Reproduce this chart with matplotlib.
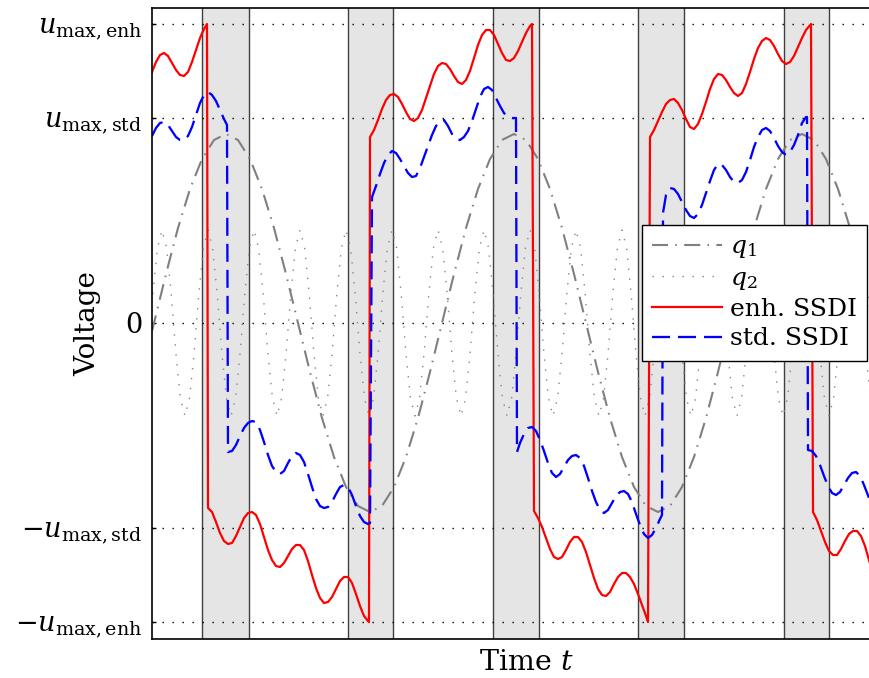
import matplotlib

matplotlib.use("Agg")
import matplotlib.pyplot as plt

plt.rcParams["font.family"] = "DejaVu Serif"
plt.rcParams["mathtext.fontset"] = "dejavuserif"

# time in ms, voltage in V; q1/q2 are drawn on the same (scaled) axis
U_MAX_ENH = 29.9
U_MAX_STD = 20.5

# switching windows (grey bands) around the extrema of q1
BAND_START = [5.0, 19.6, 34.1, 48.6, 63.2]
BAND_END = [9.7, 24.1, 38.7, 53.2, 67.7]

# mode 1 displacement q1
Q1_T = [0.0, 0.2, 1.4, 2.6, 3.8, 5.0, 6.2, 7.4, 8.6, 9.8, 11.0, 12.2, 13.4, 14.6, 15.8, 17.0, 18.2, 19.4, 20.6,
        21.8, 23.0, 24.2, 25.4, 26.6, 27.8, 29.0, 30.2, 31.4, 32.6, 33.8, 35.0, 36.2, 37.4, 38.6, 39.8, 41.0, 42.2,
        43.4, 44.6, 45.8, 47.0, 48.2, 49.4, 50.6, 51.8, 53.0, 54.2, 55.4, 56.6, 57.8, 59.0, 60.2, 61.4, 62.6, 63.8,
        65.0, 66.2, 67.4, 68.6, 69.8, 71.0, 72.2]
Q1_V = [-0.8, 0.0, 4.9, 9.5, 13.4, 16.4, 18.3, 18.9, 18.3, 16.4, 13.4, 9.5, 4.9, 0.0, -4.9, -9.5, -13.4, -16.4, -18.3,
        -18.9, -18.3, -16.4, -13.4, -9.5, -4.9, 0.0, 4.9, 9.5, 13.4, 16.4, 18.3, 18.9, 18.3, 16.4, 13.4, 9.5, 4.9,
        0.0, -4.9, -9.5, -13.4, -16.4, -18.3, -18.9, -18.3, -16.4, -13.4, -9.5, -4.9, 0.0, 4.9, 9.5, 13.4, 16.4, 18.3,
        18.9, 18.3, 16.4, 13.4, 9.5, 4.9, 0.0]

# mode 2 displacement q2
Q2_T = [0.08, 0.54, 1.00, 1.46, 1.92, 2.38, 2.84, 3.30, 3.76, 4.22,
        4.68, 5.14, 5.60, 6.06, 6.52, 6.98, 7.44, 7.90, 8.36, 8.82,
        9.28, 9.74, 10.20, 10.66, 11.12, 11.58, 12.04, 12.50, 12.96, 13.42,
        13.88, 14.34, 14.80, 15.26, 15.72, 16.18, 16.64, 17.10, 17.56, 18.02,
        18.48, 18.94, 19.40, 19.86, 20.32, 20.78, 21.24, 21.70, 22.16, 22.62,
        23.08, 23.54, 24.00, 24.46, 24.92, 25.38, 25.84, 26.30, 26.76, 27.22,
        27.68, 28.14, 28.60, 29.06, 29.52, 29.98, 30.44, 30.90, 31.36, 31.82,
        32.28, 32.74, 33.20, 33.66, 34.12, 34.58, 35.04, 35.50, 35.96, 36.42,
        36.88, 37.34, 37.80, 38.26, 38.72, 39.18, 39.64, 40.10, 40.56, 41.02,
        41.48, 41.94, 42.40, 42.86, 43.32, 43.78, 44.24, 44.70, 45.16, 45.62,
        46.08, 46.54, 47.00, 47.46, 47.92, 48.38, 48.84, 49.30, 49.76, 50.22,
        50.68, 51.14, 51.60, 52.06, 52.52, 52.98, 53.44, 53.90, 54.36, 54.82,
        55.28, 55.74, 56.20, 56.66, 57.12, 57.58, 58.04, 58.50, 58.96, 59.42,
        59.88, 60.34, 60.80, 61.26, 61.72, 62.18, 62.64, 63.10, 63.56, 64.02,
        64.48, 64.94, 65.40, 65.86, 66.32, 66.78, 67.24, 67.70, 68.16, 68.62,
        69.08, 69.54, 70.00, 70.46, 70.92, 71.38, 71.84, 72.30, 72.76, 73.22]
Q2_V = [2.9, 7.5, 9.3, 7.5, 2.9, -2.9, -7.5, -9.3, -7.5, -2.9,
        2.9, 7.5, 9.3, 7.5, 2.9, -2.9, -7.5, -9.3, -7.5, -2.9,
        2.9, 7.5, 9.3, 7.5, 2.9, -2.9, -7.5, -9.3, -7.5, -2.9,
        2.9, 7.5, 9.3, 7.5, 2.9, -2.9, -7.5, -9.3, -7.5, -2.9,
        2.9, 7.5, 9.3, 7.5, 2.9, -2.9, -7.5, -9.3, -7.5, -2.9,
        2.9, 7.5, 9.3, 7.5, 2.9, -2.9, -7.5, -9.3, -7.5, -2.9,
        2.9, 7.5, 9.3, 7.5, 2.9, -2.9, -7.5, -9.3, -7.5, -2.9,
        2.9, 7.5, 9.3, 7.5, 2.9, -2.9, -7.5, -9.3, -7.5, -2.9,
        2.9, 7.5, 9.3, 7.5, 2.9, -2.9, -7.5, -9.3, -7.5, -2.9,
        2.9, 7.5, 9.3, 7.5, 2.9, -2.9, -7.5, -9.3, -7.5, -2.9,
        2.9, 7.5, 9.3, 7.5, 2.9, -2.9, -7.5, -9.3, -7.5, -2.9,
        2.9, 7.5, 9.3, 7.5, 2.9, -2.9, -7.5, -9.3, -7.5, -2.9,
        2.9, 7.5, 9.3, 7.5, 2.9, -2.9, -7.5, -9.3, -7.5, -2.9,
        2.9, 7.5, 9.3, 7.5, 2.9, -2.9, -7.5, -9.3, -7.5, -2.9,
        2.9, 7.5, 9.3, 7.5, 2.9, -2.9, -7.5, -9.3, -7.5, -2.9,
        2.9, 7.5, 9.3, 7.5, 2.9, -2.9, -7.5, -9.3, -7.5, -2.9]

# enhanced SSDI voltage (one row per interval between switches)
ENH_T = [0.0, 0.4, 0.8, 1.2, 1.6, 2.0, 2.4, 2.8, 3.2, 3.6, 4.0, 4.4, 4.8, 5.2, 5.5,
         5.6, 6.0, 6.4, 6.8, 7.2, 7.6, 8.0, 8.4, 8.8, 9.2, 9.6, 10.0, 10.4, 10.8, 11.2, 11.6, 12.0, 12.4, 12.8, 13.2,
         13.6, 14.0, 14.4, 14.8, 15.2, 15.6, 16.0, 16.4, 16.8, 17.2, 17.6, 18.0, 18.4, 18.8, 19.2, 19.6, 20.0, 20.4,
         20.8, 21.2, 21.6, 21.7,
         21.8, 22.2, 22.6, 23.0, 23.4, 23.8, 24.2, 24.6, 25.0, 25.4, 25.8, 26.2, 26.6, 27.0, 27.4, 27.8, 28.2, 28.6,
         29.0, 29.4, 29.8, 30.2, 30.6, 31.0, 31.4, 31.8, 32.2, 32.6, 33.0, 33.4, 33.8, 34.2, 34.6, 35.0, 35.4, 35.8,
         36.2, 36.6, 37.0, 37.4, 37.8, 38.0,
         38.2, 38.6, 39.0, 39.4, 39.8, 40.2, 40.6, 41.0, 41.4, 41.8, 42.2, 42.6, 43.0, 43.4, 43.8, 44.2, 44.6, 45.0,
         45.4, 45.8, 46.2, 46.6, 47.0, 47.4, 47.8, 48.2, 48.6, 49.0, 49.4, 49.6,
         49.8, 50.2, 50.6, 51.0, 51.4, 51.8, 52.2, 52.6, 53.0, 53.4, 53.8, 54.2, 54.6, 55.0, 55.4, 55.8, 56.2, 56.6,
         57.0, 57.4, 57.8, 58.2, 58.6, 59.0, 59.4, 59.8, 60.2, 60.6, 61.0, 61.4, 61.8, 62.2, 62.6, 63.0, 63.4, 63.8,
         64.2, 64.6, 65.0, 65.4, 65.9,
         66.1, 66.5, 66.9, 67.3, 67.7, 68.1, 68.5, 68.9, 69.3, 69.7, 70.1, 70.5, 70.9, 71.3, 71.7, 72.1, 72.5]
ENH_V = [25.1, 26.1, 26.8, 27.0, 26.7, 26.0, 25.3, 24.8, 24.7, 25.1, 26.1, 27.3, 28.5, 29.4, 29.9,
         -18.5, -18.9, -19.9, -21.0, -21.8, -22.1, -22.0, -21.3, -20.4, -19.5, -19.0, -18.9, -19.2, -20.1, -21.4,
         -22.7, -23.7, -24.3, -24.4, -24.0, -23.3, -22.6, -22.2, -22.2, -22.7, -23.8, -25.2, -26.5, -27.5, -28.0,
         -27.9, -27.4, -26.6, -25.8, -25.4, -25.4, -26.0, -27.1, -28.3, -29.3, -29.8, -29.9,
         18.6, 19.3, 20.3, 21.4, 22.3, 22.8, 22.9, 22.6, 21.9, 21.1, 20.4, 20.2, 20.5, 21.3, 22.5, 23.7, 24.9, 25.7,
         26.0, 25.9, 25.4, 24.7, 24.1, 23.9, 24.3, 25.2, 26.5, 27.8, 28.8, 29.3, 29.3, 28.8, 27.9, 27.0, 26.3, 26.2,
         26.5, 27.2, 28.1, 29.0, 29.7, 29.9,
         -18.8, -19.5, -20.4, -21.5, -22.6, -23.4, -23.6, -23.4, -22.7, -21.9, -21.4, -21.4, -21.9, -22.9, -24.2,
         -25.5, -26.6, -27.2, -27.3, -26.9, -26.1, -25.4, -25.0, -25.0, -25.4, -26.1, -27.1, -28.2, -29.3, -29.9,
         18.6, 19.3, 20.2, 21.1, 21.9, 22.3, 22.4, 22.0, 21.3, 20.4, 19.6, 19.4, 19.9, 20.9, 22.1, 23.4, 24.4, 24.9,
         24.8, 24.3, 23.6, 23.0, 22.7, 23.0, 23.9, 25.1, 26.4, 27.5, 28.2, 28.5, 28.3, 27.7, 26.9, 26.2, 25.9, 26.1,
         26.7, 27.6, 28.5, 29.3, 29.9,
         -18.9, -19.7, -20.8, -21.9, -22.8, -23.2, -23.2, -22.6, -21.8, -21.1, -20.8, -20.8, -21.3, -22.3, -23.7,
         -25.1, -26.3]

# standard SSDI voltage
STD_T = [0.0, 0.4, 0.8, 1.2, 1.6, 2.0, 2.4, 2.8, 3.2, 3.6, 4.0, 4.4, 4.8, 5.2, 5.6, 6.0, 6.4, 6.8, 7.2, 7.5,
         7.6, 8.0, 8.4, 8.8, 9.2, 9.6, 10.0, 10.4, 10.8, 11.2, 11.6, 12.0, 12.4, 12.8, 13.2, 13.6, 14.0, 14.4, 14.8,
         15.2, 15.6, 16.0, 16.4, 16.8, 17.2, 17.6, 18.0, 18.4, 18.8, 19.2, 19.6, 20.0, 20.4, 20.8, 21.2, 21.6, 21.8,
         22.0, 22.4, 22.8, 23.2, 23.6, 24.0, 24.4, 24.8, 25.2, 25.6, 26.0, 26.4, 26.8, 27.2, 27.6, 28.0, 28.4, 28.8,
         29.2, 29.6, 30.0, 30.4, 30.8, 31.2, 31.6, 32.0, 32.4, 32.8, 33.2, 33.6, 34.0, 34.4, 34.8, 35.2, 35.6, 36.0,
         36.4,
         36.5, 36.8, 37.2, 37.6, 38.0, 38.4, 38.8, 39.2, 39.6, 40.0, 40.4, 40.8, 41.2, 41.6, 42.0, 42.4, 42.8, 43.2,
         43.6, 44.0, 44.4, 44.8, 45.2, 45.6, 46.0, 46.4, 46.8, 47.2, 47.6, 48.0, 48.4, 48.8, 49.2, 49.6, 50.0, 50.4,
         50.8, 51.0,
         51.1, 51.4, 51.8, 52.2, 52.6, 53.0, 53.4, 53.8, 54.2, 54.6, 55.0, 55.4, 55.8, 56.2, 56.6, 57.0, 57.4, 57.8,
         58.2, 58.6, 59.0, 59.4, 59.8, 60.2, 60.6, 61.0, 61.4, 61.8, 62.2, 62.6, 63.0, 63.4, 63.8, 64.2, 64.6, 65.0,
         65.4, 65.5,
         65.6, 66.0, 66.4, 66.8, 67.2, 67.6, 68.0, 68.4, 68.8, 69.2, 69.6, 70.0, 70.4, 70.8, 71.2, 71.7, 72.1]
STD_V = [18.7, 19.5, 20.0, 20.1, 19.8, 19.2, 18.6, 18.3, 18.3, 18.7, 19.6, 20.8, 22.0, 22.8, 23.1, 22.8, 22.2, 21.3,
         20.4, 19.8,
         -12.9, -12.8, -12.2, -11.3, -10.5, -10.0, -9.8, -9.9, -10.7, -11.9, -13.2, -14.3, -14.9, -15.1, -14.8,
         -14.0, -13.3, -13.0, -13.2, -13.9, -15.1, -16.4, -17.6, -18.3, -18.5, -18.4, -17.9, -17.1, -16.4, -16.2,
         -16.4, -17.2, -18.3, -19.3, -19.9, -20.1, -20.0,
         12.6, 13.7, 14.9, 16.0, 16.8, 17.2, 17.0, 16.4, 15.7, 15.0, 14.6, 14.7, 15.5, 16.6, 17.7, 18.8, 19.7, 20.2,
         20.3, 19.7, 18.9, 18.4, 18.3, 18.6, 19.2, 20.2, 21.4, 22.6, 23.4, 23.6, 23.3, 22.5, 21.7, 21.0, 20.6, 20.5,
         20.5,
         -12.9, -12.0, -11.1, -10.5, -10.4, -10.8, -11.7, -12.8, -14.0, -15.0, -15.4, -15.1, -14.4, -13.7, -13.3,
         -13.2, -13.5, -14.3, -15.5, -16.8, -17.9, -18.7, -19.0, -18.7, -18.0, -17.3, -16.9, -16.8, -17.1, -17.9,
         -19.1, -20.2, -21.1, -21.5, -21.2, -20.5, -19.6, -19.2,
         11.0, 12.8, 13.5, 13.4, 12.9, 12.1, 11.3, 10.7, 10.5, 10.9, 11.8, 13.0, 14.2, 15.3, 15.9, 15.8, 15.3, 14.6,
         14.1, 14.0, 14.3, 15.1, 16.3, 17.6, 18.6, 19.3, 19.5, 19.2, 18.5, 17.7, 17.1, 16.8, 17.1, 17.8, 18.8, 20.0,
         20.6, 20.6,
         -12.7, -12.8, -13.3, -14.2, -15.3, -16.3, -17.0, -17.2, -16.9, -16.2, -15.5, -15.0, -14.9, -15.3, -16.2,
         -17.5, -18.7]

YTICKS = [-U_MAX_ENH, -U_MAX_STD, 0, U_MAX_STD, U_MAX_ENH]
YTICK_LABELS = [r"$-u_{\mathrm{max,enh}}$", r"$-u_{\mathrm{max,std}}$", r"$0$",
                r"$u_{\mathrm{max,std}}$", r"$u_{\mathrm{max,enh}}$"]

W, H = 869, 678
fig = plt.figure(figsize=(W / 100, H / 100), dpi=100)
# the right edge of the axes lies just outside the picture, as in the reference
ax = fig.add_axes([152 / W, 39 / H, 728 / W, 631 / H])
ax.set_xlim(0, 72.8)
ax.set_ylim(-31.6, 31.5)

for s, e in zip(BAND_START, BAND_END):
    ax.axvspan(s, e, color="#e5e5e5", lw=0, zorder=0.5)
    ax.axvline(s, color="#404040", lw=1.0, zorder=1.2)
    ax.axvline(e, color="#404040", lw=1.0, zorder=1.2)

ax.plot(Q1_T, Q1_V, color="#808080", lw=1.5, dashes=(7.7, 3.5, 0.75, 3.5), label=r"$q_1$")
ax.plot(Q2_T, Q2_V, color="#858585", lw=1.0, dashes=(1, 6.2), label=r"$q_2$")
ax.plot(ENH_T, ENH_V, color="#ff0000", lw=1.6, label="enh. SSDI")
ax.plot(STD_T, STD_V, color="#0000ff", lw=1.65, dashes=(7.85, 3.5), label="std. SSDI")

ax.set_xticks([])
ax.set_yticks(YTICKS)
ax.set_yticklabels(YTICK_LABELS)
ax.tick_params(axis="y", direction="in", length=3, width=1, pad=7, labelsize=19.5)
ax.yaxis.grid(True, color="black", lw=1.0, linestyle=(0, (1, 6.2)))
for side in ["left", "top", "bottom"]:
    ax.spines[side].set_linewidth(1.2)

ax.set_xlabel(r"Time $t$", fontsize=20.5)
ax.xaxis.set_label_coords((526 - 152) / 728, -(662 - 639) / 631)
ax.xaxis.label.set_va("center")
ax.set_ylabel("Voltage", fontsize=20)
ax.yaxis.set_label_coords((88 - 152) / 728, 0.5)
ax.yaxis.label.set_va("center")

leg = ax.legend(loc="upper right", bbox_to_anchor=(867 / W, 1 - 225 / H), bbox_transform=fig.transFigure,
                borderaxespad=0, fancybox=False, framealpha=1, edgecolor="black", fontsize=18,
                handlelength=2.8, handletextpad=0.3, labelspacing=0.25, borderpad=0.42)
leg.get_frame().set_linewidth(1.0)

fig.savefig("out.png", dpi=100)
